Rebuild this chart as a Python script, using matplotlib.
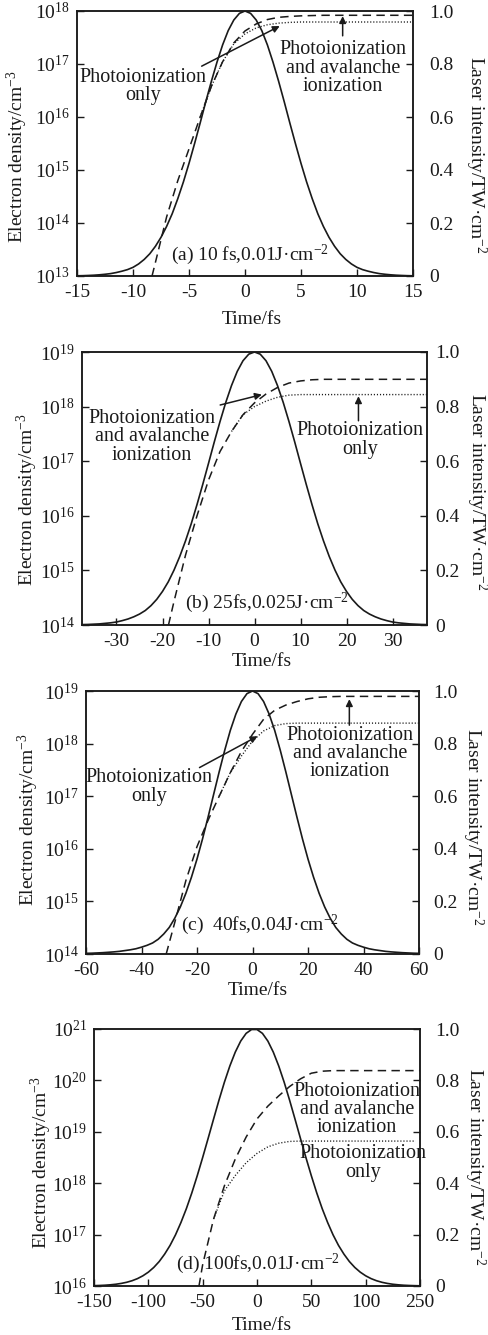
import matplotlib
matplotlib.use('Agg')
import matplotlib.pyplot as plt
import numpy as np
from matplotlib.ticker import NullLocator, FixedLocator, FixedFormatter

plt.rcParams['font.family'] = ['Liberation Serif', 'DejaVu Serif']
plt.rcParams['mathtext.fontset'] = 'custom'
plt.rcParams['mathtext.rm'] = 'Liberation Serif'
plt.rcParams['mathtext.it'] = 'Liberation Serif:italic'
plt.rcParams['mathtext.bf'] = 'Liberation Serif:bold'
plt.rcParams['axes.unicode_minus'] = False

# ---------------- data ----------------
# panel (a) 10 fs : laser intensity sampled every 0.5 fs from -15 to 15
t_a = np.arange(-15, 15.01, 0.5)
I_a = [0.0008, 0.0012, 0.002, 0.003, 0.0045, 0.0065, 0.009, 0.013, 0.018, 0.024,
       0.0326, 0.0455, 0.0625, 0.084, 0.112, 0.146, 0.187, 0.235, 0.292, 0.355,
       0.425, 0.500, 0.578, 0.658, 0.735, 0.807, 0.872, 0.926, 0.966, 0.991, 1.0,
       0.991, 0.966, 0.926, 0.872, 0.807, 0.735, 0.658, 0.578, 0.500, 0.425,
       0.355, 0.292, 0.235, 0.187, 0.146, 0.112, 0.084, 0.0625, 0.0455, 0.0326,
       0.024, 0.018, 0.013, 0.009, 0.0065, 0.0045, 0.003, 0.002, 0.0012, 0.0008]
tn_a = [-8.3, -8, -7, -6, -5, -4, -3, -2, -1, 0, 1, 2, 3, 4, 5, 6, 7, 8, 9,
        10, 11, 12, 13, 14, 15]
n_aval_a = [1.0e13, 1.8e13, 1.3e14, 6.3e14, 2.5e15, 1.0e16, 3.8e16, 1.1e17,
            2.5e17, 4.2e17, 5.7e17, 6.9e17, 7.6e17, 7.9e17, 8.1e17, 8.2e17,
            8.3e17, 8.3e17, 8.3e17, 8.3e17, 8.3e17, 8.3e17, 8.3e17, 8.3e17, 8.3e17]
tp_a = [-4, -3, -2, -1, 0, 1, 2, 3, 4, 5, 6, 7, 8, 9, 10, 11, 12, 13, 14, 15]
n_photo_a = [1.0e16, 3.8e16, 1.1e17, 2.4e17, 3.7e17, 4.8e17, 5.5e17, 5.9e17,
             6.1e17, 6.2e17, 6.2e17, 6.2e17, 6.2e17, 6.2e17, 6.2e17, 6.2e17,
             6.2e17, 6.2e17, 6.2e17, 6.2e17]

# panel (b) 25 fs : intensity every 1.25 fs from -37.5 to 37.5
t_b = np.arange(-37.5, 37.51, 1.25)
I_b = [0.0015, 0.002, 0.003, 0.004, 0.006, 0.008, 0.011, 0.016, 0.022, 0.030,
       0.040, 0.053, 0.071, 0.094, 0.123, 0.158, 0.201, 0.251, 0.308, 0.371,
       0.441, 0.515, 0.592, 0.670, 0.745, 0.815, 0.877, 0.929, 0.968, 0.992, 1.0,
       0.992, 0.968, 0.929, 0.877, 0.815, 0.745, 0.670, 0.592, 0.515, 0.441,
       0.371, 0.308, 0.251, 0.201, 0.158, 0.123, 0.094, 0.071, 0.053, 0.040,
       0.030, 0.022, 0.016, 0.011, 0.008, 0.006, 0.004, 0.003, 0.002, 0.0015]
tn_b = [-18.7, -17.5, -15, -12.5, -10, -7.5, -5, -2.5, 0, 2.5, 5, 7.5, 10,
        12.5, 15, 17.5, 20, 22.5, 25, 27.5, 30, 32.5, 35, 37.5]
n_aval_b = [1.0e14, 2.7e14, 1.9e15, 1.0e16, 4.5e16, 1.5e17, 3.5e17, 7.1e17,
            1.17e18, 1.7e18, 2.24e18, 2.7e18, 2.95e18, 3.1e18, 3.16e18, 3.16e18,
            3.16e18, 3.16e18, 3.16e18, 3.16e18, 3.16e18, 3.16e18, 3.16e18, 3.16e18]
tp_b = [-5, -2.5, 0, 2.5, 5, 7.5, 10, 12.5, 15, 17.5, 20, 22.5, 25, 27.5, 30,
        32.5, 35, 37.5]
n_photo_b = [3.5e17, 7.1e17, 1.0e18, 1.26e18, 1.48e18, 1.62e18, 1.66e18,
             1.66e18, 1.66e18, 1.66e18, 1.66e18, 1.66e18, 1.66e18, 1.66e18,
             1.66e18, 1.66e18, 1.66e18, 1.66e18]

# panel (c) 40 fs : intensity every 2 fs from -60 to 60
t_c = np.arange(-60, 60.1, 2)
I_c = [0.0025, 0.003, 0.004, 0.005, 0.0065, 0.008, 0.010, 0.013, 0.016, 0.020,
       0.026, 0.033, 0.042, 0.056, 0.076, 0.101, 0.136, 0.179, 0.231, 0.292,
       0.361, 0.438, 0.521, 0.607, 0.693, 0.775, 0.850, 0.912, 0.960, 0.990, 1.0,
       0.990, 0.960, 0.912, 0.850, 0.775, 0.693, 0.607, 0.521, 0.438, 0.361,
       0.292, 0.231, 0.179, 0.136, 0.101, 0.076, 0.056, 0.042, 0.033, 0.026,
       0.020, 0.016, 0.013, 0.010, 0.008, 0.0065, 0.005, 0.004, 0.003, 0.0025]
tn_c = [-31.1, -28, -24, -20, -16, -12, -8, -4, 0, 4, 8, 12, 16, 20, 24, 28,
        32, 36, 40, 44, 48, 52, 56, 60]
n_aval_c = [1.0e14, 4.0e14, 2.5e15, 1.1e16, 3.5e16, 1.0e17, 2.8e17, 7.1e17,
            1.5e18, 2.9e18, 4.3e18, 5.4e18, 6.3e18, 7.1e18, 7.6e18, 7.8e18,
            7.9e18, 7.9e18, 7.9e18, 7.9e18, 7.9e18, 7.9e18, 7.9e18, 7.9e18]
tp_c = [-12, -8, -4, 0, 4, 8, 12, 16, 20, 24, 28, 32, 36, 40, 44, 48, 52, 56, 60]
n_photo_c = [1.0e17, 2.8e17, 5.8e17, 1.12e18, 1.74e18, 2.2e18, 2.4e18, 2.45e18,
             2.45e18, 2.45e18, 2.45e18, 2.45e18, 2.45e18, 2.45e18, 2.45e18,
             2.45e18, 2.45e18, 2.45e18, 2.45e18]

# panel (d) 100 fs : intensity every 5 fs from -150 to 150
t_d = np.arange(-150, 150.1, 5)
I_d = [0.0013, 0.002, 0.003, 0.0046, 0.0068, 0.010, 0.0144, 0.0205, 0.0287,
       0.0397, 0.0539, 0.0722, 0.0952, 0.124, 0.158, 0.199, 0.247, 0.301, 0.362,
       0.429, 0.500, 0.574, 0.649, 0.723, 0.793, 0.856, 0.910, 0.953, 0.983,
       0.998, 0.998, 0.983, 0.953, 0.910, 0.856, 0.793, 0.723, 0.649, 0.574,
       0.500, 0.429, 0.362, 0.301, 0.247, 0.199, 0.158, 0.124, 0.0952, 0.0722,
       0.0539, 0.0397, 0.0287, 0.0205, 0.0144, 0.010, 0.0068, 0.0046, 0.003,
       0.002, 0.0013, 0.0008]
tn_d = [-53.4, -50, -40, -30, -20, -10, 0, 10, 20, 30, 40, 50, 60, 70, 80, 90,
        100, 110, 120, 130, 140, 150]
n_aval_d = [1.0e16, 2.6e16, 2.0e17, 8.9e17, 2.95e18, 7.9e18, 1.78e19, 3.16e19,
            5.0e19, 7.6e19, 1.07e20, 1.38e20, 1.51e20, 1.55e20, 1.55e20, 1.55e20,
            1.55e20, 1.55e20, 1.55e20, 1.55e20, 1.55e20, 1.55e20]
tp_d = [-40, -30, -20, -10, 0, 10, 20, 30, 40, 50, 60, 70, 80, 90, 100, 110,
        120, 130, 140, 146]
n_photo_d = [2.0e17, 7.1e17, 1.41e18, 2.5e18, 3.8e18, 5.1e18, 6.0e18, 6.5e18,
             6.6e18, 6.6e18, 6.6e18, 6.6e18, 6.6e18, 6.6e18, 6.6e18, 6.6e18,
             6.6e18, 6.6e18, 6.6e18, 6.6e18]

x_ticks_a = [-15, -10, -5, 0, 5, 10, 15]
x_ticks_b = [-30, -20, -10, 0, 10, 20, 30]
x_ticks_c = [-60, -40, -20, 0, 20, 40, 60]
x_ticks_d = [-150, -100, -50, 0, 50, 100, 150]
x_labels_d = ['-150', '-100', '-50', '0', '50', '100', '250']
right_ticks = [0, 0.2, 0.4, 0.6, 0.8, 1.0]
right_labels = ['0', '0.2', '0.4', '0.6', '0.8', '1.0']

cap_a = '(a) 10 fs,0.01J\u00b7cm$^{-2}$'
cap_b = '(b) 25fs,0.025J\u00b7cm$^{-2}$'
cap_c = '(c)  40fs,0.04J\u00b7cm$^{-2}$'
cap_d = '(d) 100fs,0.01J\u00b7cm$^{-2}$'
txt_only = 'Photoionization\nonly'
txt_aval = 'Photoionization\nand avalanche\nionization'

# ---------------- figure ----------------
W, H = 488, 1335
fig = plt.figure(figsize=(W / 100, H / 100), dpi=100)
INK = '#1a1a1a'
FS = 14

panels = [
    dict(box=(77, 413, 11, 276), t=t_a, I=I_a, tn=tn_a, na=n_aval_a, tp=tp_a, npo=n_photo_a,
         xlim=(-15, 15), xt=x_ticks_a, xl=[str(v) for v in x_ticks_a], ylog=(13, 18),
         cap=cap_a, cap_xy=(0.515, 0.08), rpad=12,
         texts=[(txt_only, 0.196, 0.714), (txt_aval, 0.792, 0.784)],
         arrows=[((3.1, 5.2e17), (-3.87, 9.1e16)), ((8.72, 8.0e17), (8.72, 3.4e17))],
         lab=(-0.176, 0.45, 1.185, 0.458, 0.52, -0.163)),
    dict(box=(82, 427, 352, 625), t=t_b, I=I_b, tn=tn_b, na=n_aval_b, tp=tp_b, npo=n_photo_b,
         xlim=(-37.5, 37.5), xt=x_ticks_b, xl=[str(v) for v in x_ticks_b], ylog=(14, 19),
         cap=cap_b, cap_xy=(0.536, 0.081), rpad=6,
         texts=[(txt_aval, 0.203, 0.689), (txt_only, 0.806, 0.678)],
         arrows=[((1.6, 1.66e18), (-7.46, 1.07e18)), ((22.6, 1.55e18), (22.6, 5.5e17))],
         lab=(-0.157, 0.458, 1.145, 0.49, 0.522, -0.135)),
    dict(box=(86, 419, 691, 954), t=t_c, I=I_c, tn=tn_c, na=n_aval_c, tp=tp_c, npo=n_photo_c,
         xlim=(-60, 60), xt=x_ticks_c, xl=[str(v) for v in x_ticks_c], ylog=(14, 19),
         cap=cap_c, cap_xy=(0.523, 0.11), rpad=10,
         texts=[(txt_only, 0.189, 0.635), (txt_aval, 0.793, 0.762)],
         arrows=[((1.8, 1.38e18), (-19.1, 3.5e17)), ((34.9, 7.0e18), (34.9, 2.24e18))],
         lab=(-0.174, 0.51, 1.162, 0.483, 0.517, -0.137)),
    dict(box=(94, 420, 1029, 1286), t=t_d, I=I_d, tn=tn_d, na=n_aval_d, tp=tp_d, npo=n_photo_d,
         xlim=(-150, 150), xt=x_ticks_d, xl=x_labels_d, ylog=(16, 21),
         cap=cap_d, cap_xy=(0.503, 0.086), rpad=11,
         texts=[(txt_aval, 0.807, 0.687), (txt_only, 0.825, 0.479)],
         arrows=[],
         lab=(-0.16, 0.479, 1.169, 0.463, 0.516, -0.152)),
]

for p in panels:
    l, r, t, b = p['box']
    ax = fig.add_axes([l / W, 1 - b / H, (r - l) / W, (b - t) / H])
    ax.set_yscale('log')
    lo, hi = p['ylog']
    ax.set_ylim(10.0 ** lo, 10.0 ** hi)
    ax.set_xlim(*p['xlim'])
    ax.plot(p['tn'], p['na'], color=INK, lw=1.1, ls=(0, (5.5, 3.5)))
    ax.plot(p['tp'], p['npo'], color=INK, lw=1.0, ls=(0, (0.8, 1.4)))

    ax.yaxis.set_major_locator(FixedLocator([10.0 ** k for k in range(lo, hi + 1)]))
    ax.yaxis.set_major_formatter(FixedFormatter(['$10^{%d}$' % k for k in range(lo, hi + 1)]))
    ax.yaxis.set_minor_locator(NullLocator())
    ax.xaxis.set_major_locator(FixedLocator(p['xt']))
    ax.xaxis.set_major_formatter(FixedFormatter(p['xl']))
    ax.xaxis.set_minor_locator(NullLocator())
    ax.tick_params(direction='in', length=5, width=1.0, labelsize=FS, colors=INK,
                   top=False, right=False, pad=6)
    ax.tick_params(axis='y', pad=5)

    ax2 = ax.twinx()
    ax2.plot(p['t'], p['I'], color=INK, lw=1.2)
    ax2.set_ylim(0, 1.0)
    ax2.yaxis.set_major_locator(FixedLocator(right_ticks))
    ax2.yaxis.set_major_formatter(FixedFormatter(right_labels))
    ax2.yaxis.set_minor_locator(NullLocator())
    ax2.tick_params(direction='in', length=5, width=1.0, labelsize=FS, colors=INK,
                    pad=p['rpad'])

    for a in (ax, ax2):
        for s in a.spines.values():
            s.set_linewidth(1.1)
            s.set_color(INK)

    lx, ly, rx, ry, xx, xy = p['lab']
    ax.set_ylabel('Electron density/cm$^{-3}$', fontsize=FS, color=INK)
    ax.yaxis.set_label_coords(lx, ly)
    ax.yaxis.label.set_verticalalignment('center')
    ax2.set_ylabel('Laser intensity/TW\u00b7cm$^{-2}$', fontsize=FS, color=INK,
                   rotation=270)
    ax2.yaxis.set_label_coords(rx, ry)
    ax2.yaxis.label.set_verticalalignment('center')
    ax.set_xlabel('Time/fs', fontsize=FS, color=INK)
    ax.xaxis.set_label_coords(xx, xy)
    ax.xaxis.label.set_verticalalignment('center')

    for s, x, y in p['texts']:
        ax2.text(x, y, s, transform=ax2.transAxes, ha='center', va='center',
                 fontsize=14.5, color=INK, linespacing=0.95)
    ax2.text(p['cap_xy'][0], p['cap_xy'][1], p['cap'], transform=ax2.transAxes,
             ha='center', va='center', fontsize=FS, color=INK)
    for head, tail in p['arrows']:
        ax.annotate('', xy=head, xytext=tail, xycoords='data', textcoords='data',
                    arrowprops=dict(arrowstyle='-|>', color=INK, lw=1.1,
                                    mutation_scale=10, shrinkA=0, shrinkB=0))

fig.savefig('out.png', dpi=100)
